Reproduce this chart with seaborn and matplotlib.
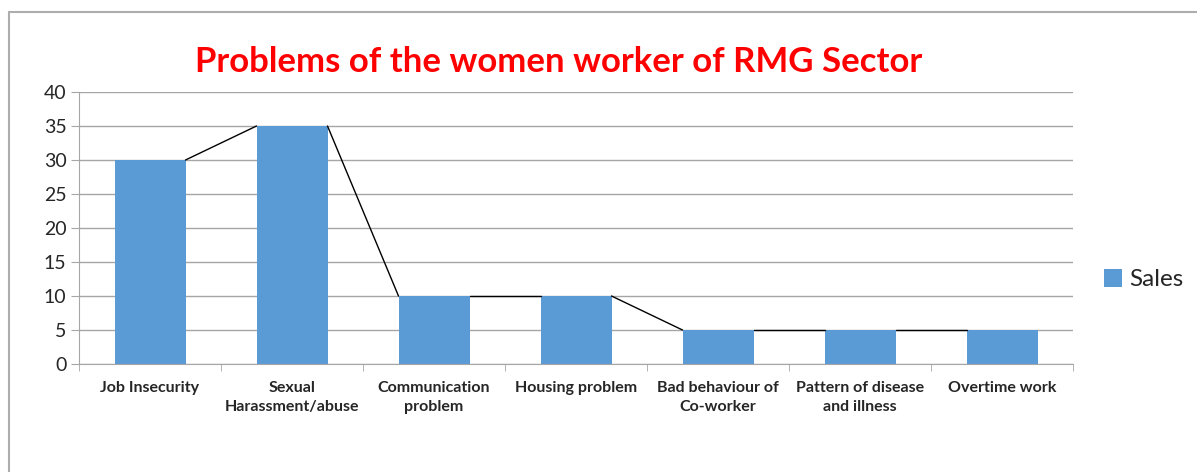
import numpy as np
import pandas as pd
import matplotlib
matplotlib.use("Agg")
import matplotlib.pyplot as plt
from matplotlib.lines import Line2D
import seaborn as sns

# chart data
problems = ["Job Insecurity", "Sexual\nHarassment/abuse", "Communication\nproblem",
            "Housing problem", "Bad behaviour of\nCo-worker", "Pattern of disease\nand illness",
            "Overtime work"]
sales = [30, 35, 10, 10, 5, 5, 5]
yticks = [0, 5, 10, 15, 20, 25, 30, 35, 40]

df = pd.DataFrame({"Problem": problems, "Sales": sales})

sns.set_style("white")
plt.rcParams["font.family"] = ["Lato", "DejaVu Sans"]

W, H = 1197, 472
fig = plt.figure(figsize=(W / 100, H / 100), dpi=100)
ax = fig.add_axes([79 / W, 1 - 364 / H, (1073 - 79) / W, (364 - 92) / H])

bar_w = 0.5
sns.barplot(data=df, x="Problem", y="Sales", color="#5B9BD5", width=bar_w,
            saturation=1, ax=ax, label="Sales", zorder=2, linewidth=0)

# connector lines between tops of neighbouring bars
for i in range(len(sales) - 1):
    ax.plot([i + bar_w / 2, i + 1 - bar_w / 2], [sales[i], sales[i + 1]],
            color="black", lw=1, zorder=3)

ax.set_ylim(0, 40)
ax.set_xlim(-0.5, len(sales) - 0.5)
ax.set_yticks(yticks)
ax.yaxis.grid(True, color="#A6A6A6", lw=1)
ax.set_axisbelow(True)
ax.set_xlabel("")
ax.set_ylabel("")

for s in ["top", "right"]:
    ax.spines[s].set_visible(False)
ax.spines["left"].set_color("#A6A6A6")
ax.spines["bottom"].set_color("#A6A6A6")

ax.tick_params(axis="y", length=6, color="#A6A6A6", labelsize=14, pad=3,
               left=True)
ax.tick_params(axis="x", which="major", length=0, pad=12)
ax.set_xticks(np.arange(-0.5, len(sales)), minor=True)
ax.tick_params(axis="x", which="minor", length=5, color="#A6A6A6", bottom=True)
for lab in ax.get_xticklabels():
    lab.set_fontsize(11.5)
    lab.set_fontweight("bold")
    lab.set_linespacing(1.5)
    lab.set_verticalalignment("top")

fig.text(559 / W, 1 - 62 / H, "Problems of the women worker of RMG Sector",
         color="red", fontsize=25, fontweight="bold", ha="center", va="center")

ax.legend(loc="center left", bbox_to_anchor=((1104 - 79) / (1073 - 79), 0.31),
          frameon=False, borderaxespad=0, borderpad=0,
          fontsize=17.5, handlelength=0.75, handleheight=0.75, handletextpad=0.3)

# outer chart border
fig.add_artist(Line2D([9 / W, 1], [1 - 12 / H, 1 - 12 / H], color="#ADADAD", lw=1.5))
fig.add_artist(Line2D([9 / W, 9 / W], [0, 1 - 12 / H], color="#ADADAD", lw=1.5))

fig.savefig("out.png", dpi=100)
